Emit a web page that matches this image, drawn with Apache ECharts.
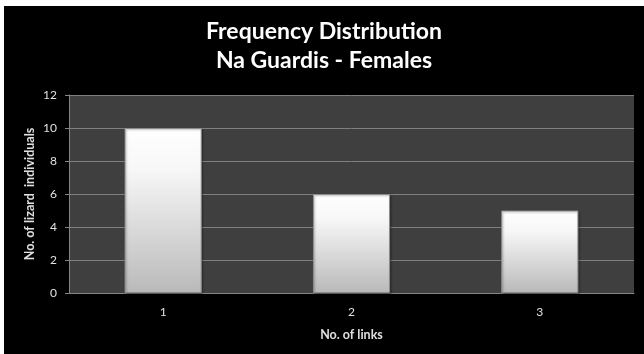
<!DOCTYPE html>
<html>
<head>
<meta charset="utf-8">
<script src="https://cdn.jsdelivr.net/npm/echarts@6/dist/echarts.min.js"></script>
<style>
  html, body { margin: 0; padding: 0; background: #ffffff; }
  #chart { position: absolute; left: 4px; top: 6px; width: 640px; height: 348px; background: #000000; }
</style>
</head>
<body>
<div id="chart"></div>
<script>
// Number of links per lizard (categories) and how many females had each
const linkCategories = ['1', '2', '3'];
const femaleCounts = [10, 6, 5];
const yTicks = { min: 0, max: 12, interval: 2 };

const chart = echarts.init(document.getElementById('chart'), null, { renderer: 'canvas' });

const labelFont = 'Lato, "Open Sans", sans-serif';

chart.setOption({
  backgroundColor: '#000000',
  animation: false,
  title: {
    text: 'Frequency Distribution\nNa Guardis - Females',
    left: 'center',
    top: 6,
    textStyle: {
      color: '#ffffff',
      fontFamily: labelFont,
      fontWeight: 'bold',
      fontSize: 23,
      lineHeight: 29
    }
  },
  grid: {
    left: 65,
    right: 10,
    top: 89,
    bottom: 61,
    show: true,
    backgroundColor: '#3f3f3f',
    borderWidth: 0
  },
  xAxis: {
    type: 'category',
    data: linkCategories,
    name: 'No. of links',
    nameLocation: 'middle',
    nameGap: 35,
    nameMoveOverlap: false,
    nameTextStyle: { color: '#e0e0e0', fontFamily: labelFont, fontWeight: 'bold', fontSize: 12.5 },
    axisLine: { lineStyle: { color: '#858585', width: 1 } },
    axisTick: { show: false },
    axisLabel: { color: '#e0e0e0', fontFamily: labelFont, fontSize: 12, margin: 13 },
    splitLine: { show: false }
  },
  yAxis: {
    type: 'value',
    min: yTicks.min,
    max: yTicks.max,
    interval: yTicks.interval,
    name: 'No. of lizard  individuals',
    nameLocation: 'middle',
    nameRotate: 90,
    nameGap: 33,
    nameMoveOverlap: false,
    nameTextStyle: { color: '#e0e0e0', fontFamily: labelFont, fontWeight: 'bold', fontSize: 12.5 },
    axisLine: { show: true, lineStyle: { color: '#858585', width: 1 } },
    axisTick: { show: true, inside: false, length: 4, lineStyle: { color: '#858585' } },
    axisLabel: { color: '#e0e0e0', fontFamily: labelFont, fontSize: 12, margin: 12 },
    splitLine: { show: true, lineStyle: { color: '#7f7f7f', width: 1 } }
  },
  series: [{
    type: 'bar',
    data: femaleCounts,
    barWidth: '41%',
    itemStyle: {
      color: new echarts.graphic.LinearGradient(0, 0, 0, 1, [
        { offset: 0, color: '#ffffff' },
        { offset: 0.25, color: '#f7f7f7' },
        { offset: 1, color: '#b9b9b9' }
      ]),
      borderColor: '#8c8c8c',
      borderWidth: 1,
      shadowColor: 'rgba(0,0,0,0.35)',
      shadowBlur: 2,
      shadowOffsetX: 1,
      shadowOffsetY: 1
    }
  }]
});
</script>
</body>
</html>
